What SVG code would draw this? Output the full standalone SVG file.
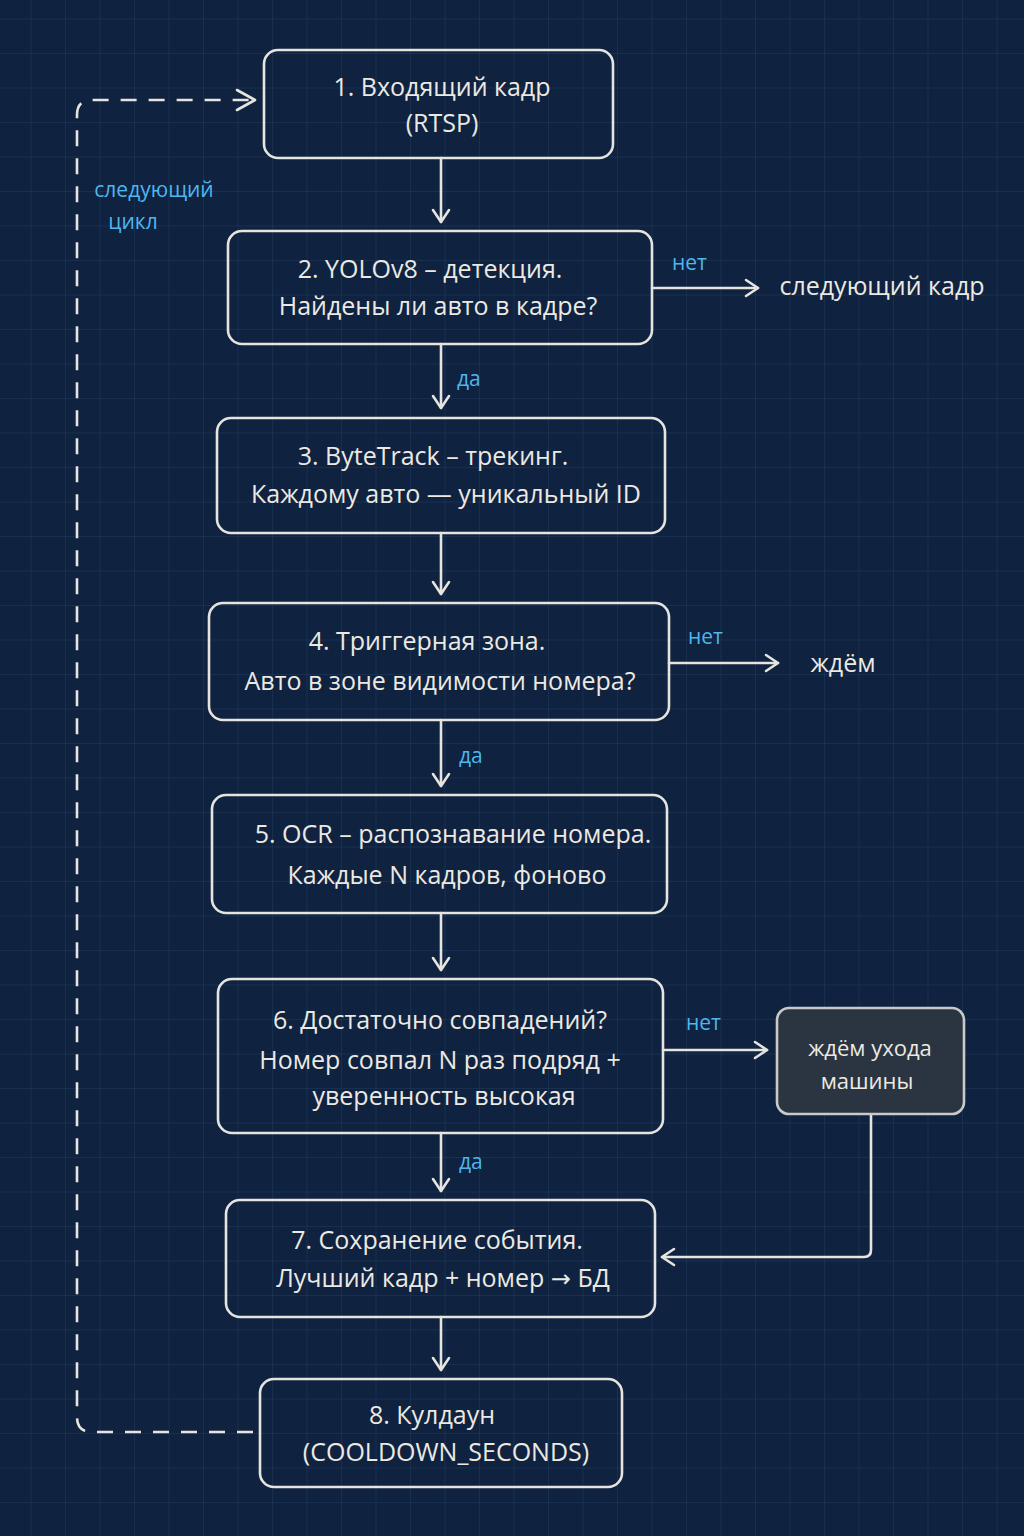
<svg xmlns="http://www.w3.org/2000/svg" width="1024" height="1536" viewBox="0 0 1024 1536">
<defs>
<pattern id="grid" width="34.5" height="34.5" patternUnits="userSpaceOnUse" x="-3" y="-15">
<path d="M34.5 0V34.5M0 34.5H34.5" fill="none" stroke="#223b5e" stroke-width="1"/>
</pattern>
<marker id="ah" viewBox="0 0 20 20" refX="18" refY="10" markerWidth="20" markerHeight="20" markerUnits="userSpaceOnUse" orient="auto">
<path d="M6 2L18 10L6 18" fill="none" stroke="#e6e4df" stroke-width="2.6" stroke-linecap="round" stroke-linejoin="round"/>
</marker>
<style>
.box{fill:none;stroke:#e6e4df;stroke-width:2.6}
.dbox{fill:#2b3541;stroke:#c9c9c9;stroke-width:2.6}
.t{font-family:"Open Sans","Liberation Sans",sans-serif;font-size:25px;fill:#ece9e2;text-anchor:middle;dominant-baseline:middle}
.lbl{font-family:"Open Sans","Liberation Sans",sans-serif;font-size:21px;fill:#4db6ee;dominant-baseline:middle}
.c{fill:none;stroke:#e6e4df;stroke-width:2.6;stroke-linecap:round;stroke-linejoin:round}
.d{fill:none;stroke:#e6e4df;stroke-width:2.6;stroke-dasharray:16 12}
</style>
</defs>
<rect width="1024" height="1536" fill="#0f2240"/>
<rect width="1024" height="1536" fill="url(#grid)"/>

<g id="connectors">
<path class="c" d="M441 158V222" marker-end="url(#ah)"/>
<path class="c" d="M652 288H758" marker-end="url(#ah)"/>
<path class="c" d="M441 344V408" marker-end="url(#ah)"/>
<path class="c" d="M441 533V594" marker-end="url(#ah)"/>
<path class="c" d="M669 663H778" marker-end="url(#ah)"/>
<path class="c" d="M441 720V786" marker-end="url(#ah)"/>
<path class="c" d="M441 913V970" marker-end="url(#ah)"/>
<path class="c" d="M663 1050H767" marker-end="url(#ah)"/>
<path class="c" d="M871 1114V1250Q871 1257 864 1257H662" marker-end="url(#ah)"/>
<path class="c" d="M441 1133V1191" marker-end="url(#ah)"/>
<path class="c" d="M441 1317V1370" marker-end="url(#ah)"/>
<path class="d" d="M253 1432H92Q77 1432 77 1417V115Q77 100 92 100H255"/>
<path class="c" d="M237 90L255 100L237 110"/>
<text class="lbl" x="672" y="264">нет</text>
<text class="lbl" x="457" y="380">да</text>
<text class="lbl" x="688" y="638">нет</text>
<text class="lbl" x="459" y="757">да</text>
<text class="lbl" x="686" y="1024">нет</text>
<text class="lbl" x="459" y="1163">да</text>
<text class="lbl" x="154" y="191" text-anchor="middle">следующий</text>
<text class="lbl" x="133" y="223" text-anchor="middle">цикл</text>
</g>

<g id="n1">
<rect class="box" x="264" y="50" width="349" height="108" rx="14"/>
<text class="t" x="442" y="89">1. Входящий кадр</text>
<text class="t" x="442" y="125">(RTSP)</text>
</g>
<g id="n2">
<rect class="box" x="228" y="231" width="424" height="113" rx="14"/>
<text class="t" x="430" y="271">2. YOLOv8 – детекция.</text>
<text class="t" x="438" y="308">Найдены ли авто в кадре?</text>
</g>
<g id="n2out">
<text class="t" x="882" y="288">следующий кадр</text>
</g>
<g id="n3">
<rect class="box" x="217" y="418" width="448" height="115" rx="14"/>
<text class="t" x="433" y="458">3. ByteTrack – трекинг.</text>
<text class="t" x="446" y="496">Каждому авто — уникальный ID</text>
</g>
<g id="n4">
<rect class="box" x="209" y="603" width="460" height="117" rx="14"/>
<text class="t" x="427" y="643">4. Триггерная зона.</text>
<text class="t" x="440" y="683">Авто в зоне видимости номера?</text>
</g>
<g id="n4out">
<text class="t" x="843" y="665">ждём</text>
</g>
<g id="n5">
<rect class="box" x="212" y="795" width="455" height="118" rx="14"/>
<text class="t" x="453" y="836">5. OCR – распознавание номера.</text>
<text class="t" x="447" y="877">Каждые N кадров, фоново</text>
</g>
<g id="n6">
<rect class="box" x="218" y="979" width="445" height="154" rx="14"/>
<text class="t" x="440" y="1022">6. Достаточно совпадений?</text>
<text class="t" x="440" y="1062">Номер совпал N раз подряд +</text>
<text class="t" x="444" y="1098">уверенность высокая</text>
</g>
<g id="n6out">
<rect class="dbox" x="777" y="1008" width="187" height="106" rx="12"/>
<text class="t" x="870" y="1050" style="font-size:22px">ждём ухода</text>
<text class="t" x="867" y="1083" style="font-size:22px">машины</text>
</g>
<g id="n7">
<rect class="box" x="226" y="1200" width="429" height="117" rx="14"/>
<text class="t" x="437" y="1242">7. Сохранение события.</text>
<text class="t" x="443" y="1280">Лучший кадр + номер <tspan style="font-family:'DejaVu Sans',sans-serif;font-size:24px">→</tspan> БД</text>
</g>
<g id="n8">
<rect class="box" x="260" y="1379" width="362" height="108" rx="14"/>
<text class="t" x="432" y="1417">8. Кулдаун</text>
<text class="t" x="446" y="1454">(COOLDOWN_SECONDS)</text>
</g>
</svg>
